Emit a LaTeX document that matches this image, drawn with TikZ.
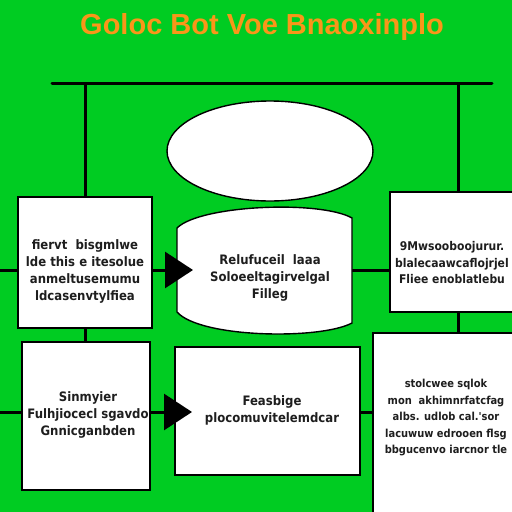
\documentclass[tikz,border=0pt]{standalone}
\usepackage{fontspec}
\setmainfont{Liberation Sans}
\newfontfamily\boxfont{DejaVu Sans Condensed}
\usepackage{tkz-euclide}
\usetikzlibrary{calc}
\usetikzlibrary{arrows.meta}

\definecolor{bggreen}{RGB}{0,204,34}
\definecolor{titleorange}{RGB}{250,150,25}
\definecolor{inkgray}{RGB}{30,30,30}

\tikzset{
  card/.style={draw=black,line width=1.4pt,fill=white,inner sep=0pt},
  note/.style={align=center,text=inkgray,font=\boxfont\bfseries\fontsize{13}{17}\selectfont,inner sep=0pt},
  wire/.style={line width=3pt},
  bigarrow/.style={line width=3pt,-{Triangle[length=28pt,width=36pt]}}
}

\begin{document}
\begin{tikzpicture}[x=1pt,y=-1pt]
                \fill[bggreen] (0,0) rectangle (512,512);
                \useasboundingbox (0,0) rectangle (512,512);

                \node[text=titleorange,font=\bfseries\fontsize{29}{32}\selectfont] (title) at (262,27) {Goloc Bot Voe Bnaoxinplo};

                \tkzDefPoint(52,83){busL}
                \tkzDefPoint(492,83){busR}
                \tkzDefPoint(85,83){busA}
                \tkzDefPoint(458,83){busC}
                \tkzDefPoint(0,270){edgeA}
                \tkzDefPoint(0,412){edgeD}
                \tkzDefPoint(193,270){revtip}
                \tkzDefPoint(192,412){chktip}
                \tkzDefPoint(177,270){revW}
                \tkzDefPoint(352,270){revE}

                \node[card,minimum width=134pt,minimum height=131pt] (intro) at (85,262.5) {};
                \node[card,minimum width=124pt,minimum height=120pt] (pathbox) at (452,252) {};
                \node[card,minimum width=128pt,minimum height=148pt] (setup) at (86,416) {};
                \node[card,minimum width=185pt,minimum height=128pt] (check) at (267.5,411) {};
                \node[card,minimum width=145pt,minimum height=190pt] (wrap) at (445.5,428) {};

                % bus and drops
                \tkzDrawSegment[wire](busL,busR)
                \draw[wire] (busA) -- (intro.north);
                \draw[wire] (busC) -- (busC |- pathbox.north);
                \draw[wire] (intro.south) -- (intro.south |- setup.north);
                \draw[wire] (busC |- pathbox.south) -- (busC |- wrap.north);

                % side stubs
                \draw[wire] (edgeA) -- (edgeA -| intro.west);
                \draw[wire] (edgeD) -- (edgeD -| setup.west);
                \draw[wire] (revE) -- (revE -| pathbox.west);
                \draw[wire] (chktip -| check.east) -- (chktip -| wrap.west);

                % goal ellipse
                \draw[line width=1.4pt,fill=white] (270,151) ellipse [x radius=103pt,y radius=50pt];
                \coordinate (goal) at (270,151);

                % review shape
                \draw[line width=1.4pt,fill=white] (177,228) .. controls (200,205) and (320,200) .. (352,218)
                  -- (352,323) .. controls (320,340) and (200,338) .. (177,312) -- cycle;

                % texts
                \node[note] (introtext) at (85,271) {fiervt \ bisgmlwe\\lde this e itesolue\\anmeltusemumu\\ldcasenvtylfiea};
                \node[note] (revtext) at (270,278) {Relufuceil \ laaa\\Soloeeltagirvelgal\\Filleg};
                \node[note,font=\boxfont\bfseries\fontsize{12}{16.5}\selectfont] (pathtext) at (452,263) {9Mwsooboojurur.\\blalecaawcaflojrjel\\Fliee enoblatlebu};
                \node[note] (setuptext) at (88,415) {Sinmyier\\Fulhjiocecl sgavdo\\Gnnicganbden};
                \node[note] (checktext) at (272,410) {Feasbige\\plocomuvitelemdcar};
                \node[note,font=\boxfont\bfseries\fontsize{11}{16.5}\selectfont] (wraptext) at (446,418) {stolcwee sqlok\\mon \ akhimnrfatcfag\\albs. udlob cal.'sor\\lacuwuw edrooen flsg\\bbgucenvo iarcnor tle};

                % arrows
                \draw[bigarrow] (intro.east |- revtip) -- (revtip);
                \draw[bigarrow] (setup.east |- chktip) -- (chktip);
            \end{tikzpicture}
\end{document}
